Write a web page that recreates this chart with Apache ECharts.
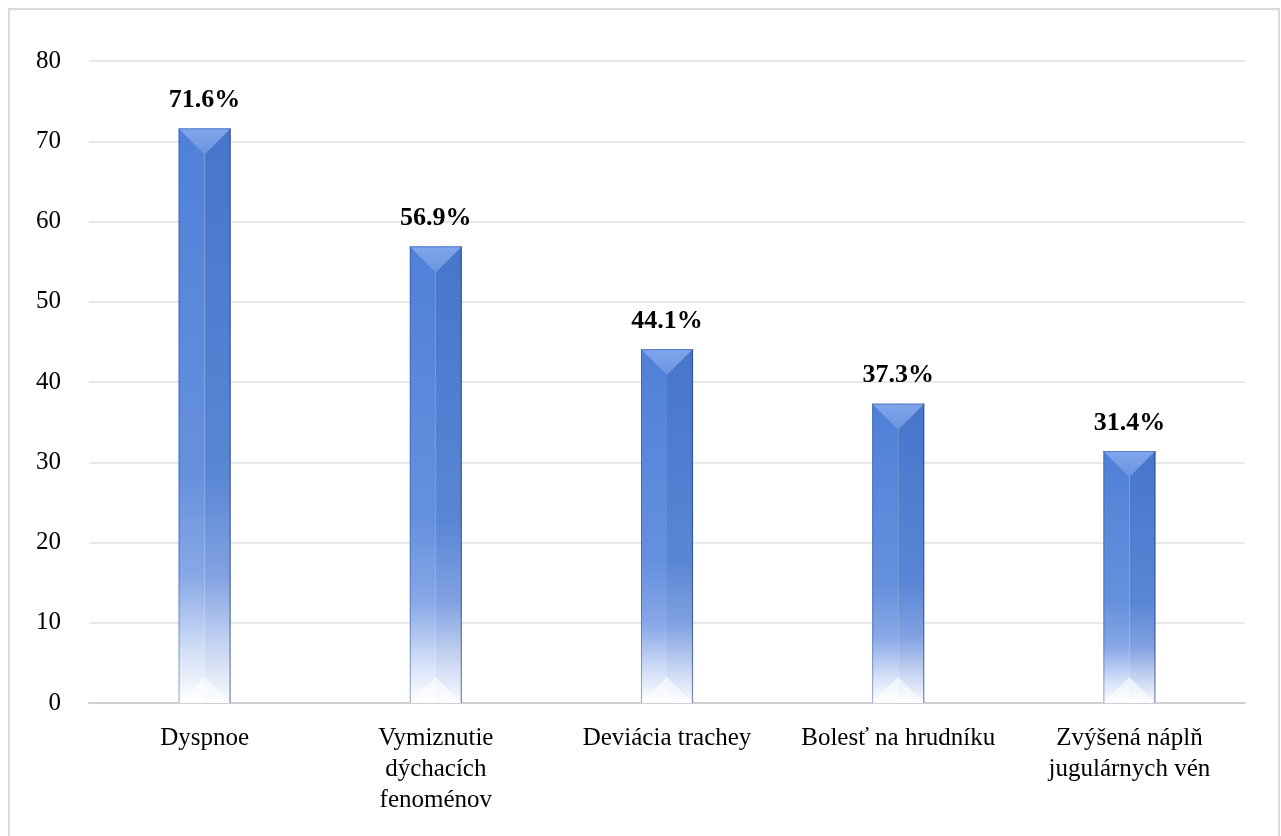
<!DOCTYPE html>
<html>
<head>
<meta charset="utf-8">
<script src="https://cdn.jsdelivr.net/npm/echarts@6/dist/echarts.min.js"></script>
<style>
  html, body { margin: 0; padding: 0; background: #ffffff; }
  #chart { width: 1281px; height: 836px; }
</style>
</head>
<body>
<div id="chart"></div>
<script>
// Symptom categories and their share of patients (%)
const categories = [
  'Dyspnoe',
  'Vymiznutie\ndýchacích\nfenoménov',
  'Deviácia trachey',
  'Bolesť na hrudníku',
  'Zvýšená náplň\njugulárnych vén'
];
const percentages = [71.6, 56.9, 44.1, 37.3, 31.4];
const yTicks = { min: 0, max: 80, step: 10 };

const FONT = '"Liberation Serif", "Times New Roman", serif';

function vGrad(stops) {
  return new echarts.graphic.LinearGradient(0, 0, 0, 1, stops);
}

// Bevelled column: light left half, darker right half, a pointed bevel on top,
// fading to white towards the baseline.
function renderBar(params, api) {
  const idx = api.value(0);
  const val = api.value(1);
  const top = api.coord([idx, val]);
  const base = api.coord([idx, 0]);
  const w = api.size([1, 0])[0] * 0.225;
  const x0 = top[0] - w / 2;
  const xc = top[0];
  const x1 = top[0] + w / 2;
  const yT = top[1];
  const yB = base[1];
  const h = yB - yT;
  const bev = w / 2;

  const leftFill = vGrad([
    { offset: 0, color: '#4f80d8' },
    { offset: 0.6, color: '#6590dd' },
    { offset: 0.78, color: '#88a8e7' },
    { offset: 0.92, color: '#d8e3f8' },
    { offset: 1, color: '#ffffff' }
  ]);
  const rightFill = vGrad([
    { offset: 0, color: '#4675cb' },
    { offset: 0.6, color: '#5986d5' },
    { offset: 0.78, color: '#82a2e2' },
    { offset: 0.92, color: '#d0dcf4' },
    { offset: 1, color: '#f8fafe' }
  ]);

  const children = [
    { type: 'rect', shape: { x: x0, y: yT, width: w / 2, height: h }, style: { fill: leftFill } },
    { type: 'rect', shape: { x: xc, y: yT, width: w / 2, height: h }, style: { fill: rightFill } },
    {
      type: 'polygon',
      shape: { points: [[x0, yT], [x1, yT], [xc, yT + Math.min(bev, h / 2)]] },
      style: { fill: vGrad([{ offset: 0, color: '#80a6ec' }, { offset: 1, color: '#6c94de' }]) }
    },
    {
      type: 'polygon',
      shape: { points: [[x0, yB], [x1, yB], [xc, yB - Math.min(bev, h / 2)]] },
      style: { fill: 'rgba(255,255,255,0.55)' }
    },
    { type: 'line', shape: { x1: x0 + 0.5, y1: yT, x2: x0 + 0.5, y2: yB },
      style: { stroke: 'rgba(45,80,150,0.5)', lineWidth: 1 } },
    { type: 'line', shape: { x1: x1 - 0.5, y1: yT, x2: x1 - 0.5, y2: yB },
      style: { stroke: 'rgba(40,60,110,0.6)', lineWidth: 1.2 } },
    { type: 'line', shape: { x1: x0, y1: yT + 0.5, x2: x1, y2: yT + 0.5 },
      style: { stroke: 'rgba(60,100,180,0.6)', lineWidth: 1 } },
    {
      type: 'text',
      style: {
        text: val.toFixed(1) + '%',
        x: xc,
        y: yT - 15,
        align: 'center',
        verticalAlign: 'bottom',
        fill: '#000000',
        font: 'bold 26px ' + FONT
      }
    }
  ];
  return { type: 'group', children };
}

const chart = echarts.init(document.getElementById('chart'), null, { renderer: 'canvas' });

chart.setOption({
  backgroundColor: '#ffffff',
  animation: false,
  graphic: [{
    type: 'rect',
    shape: { x: 9, y: 9, width: 1270, height: 840 },
    style: { fill: 'none', stroke: '#d9d9d9', lineWidth: 2 },
    silent: true
  }],
  grid: { left: 89, right: 36, top: 61, bottom: 133, containLabel: false },
  xAxis: {
    type: 'category',
    data: categories,
    axisLine: { show: true, lineStyle: { color: '#d0d0d0', width: 2 } },
    axisTick: { show: false },
    axisLabel: {
      color: '#000000',
      fontFamily: FONT,
      fontSize: 25,
      lineHeight: 31,
      margin: 20,
      interval: 0,
      align: 'center'
    }
  },
  yAxis: {
    type: 'value',
    min: yTicks.min,
    max: yTicks.max,
    interval: yTicks.step,
    axisLine: { show: false },
    axisTick: { show: false },
    splitLine: { lineStyle: { color: '#e0e0e0', width: 1.5 } },
    axisLabel: {
      color: '#000000',
      fontFamily: FONT,
      fontSize: 25,
      margin: 28
    }
  },
  series: [{
    type: 'custom',
    renderItem: renderBar,
    encode: { x: 0, y: 1 },
    data: percentages.map((v, i) => [i, v]),
    z: 3
  }]
});
</script>
</body>
</html>
